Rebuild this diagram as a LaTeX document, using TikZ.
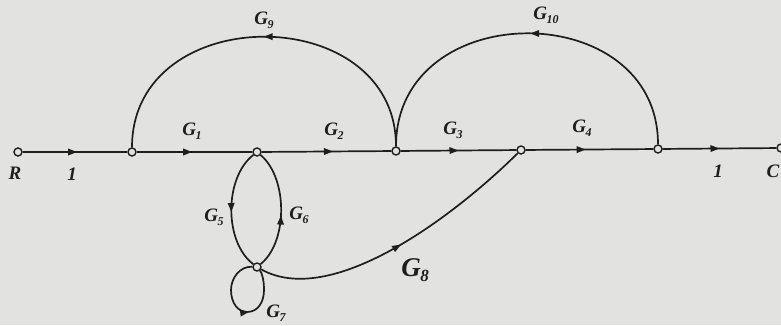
\documentclass[tikz,border=0pt]{standalone}
\usepackage{fontspec}
\setmainfont{Liberation Serif}
\usetikzlibrary{arrows.meta,decorations.markings}
\definecolor{bg}{RGB}{226,226,224}
\definecolor{ink}{RGB}{30,30,30}
\newcommand\gl[2][12]{G\kern-0.5pt\raisebox{-0.45ex}{\fontsize{#1}{#1}\selectfont #2}}
\tikzset{
  x=1pt, y=-1pt,
  sfgnode/.style={circle, draw=ink, fill=bg, line width=1.4pt, inner sep=0pt, minimum size=8pt},
  branch/.style={draw=ink, line width=1.7pt},
  midarrow/.style={decoration={markings, mark=at position #1 with {\arrow{Triangle[length=9pt,width=6.5pt]}}}, postaction={decorate}},
  glabel/.style={font=\fontsize{19}{19}\selectfont\bfseries\itshape, text=ink, inner sep=0pt},
}
\begin{document}
\begin{tikzpicture}
\fill[bg] (0,0) rectangle (781,325);
\useasboundingbox (0,0) rectangle (781,325);
% nodes
\node[sfgnode] (R) at (18,152) {};
\node[sfgnode] (n1) at (132,152) {};
\node[sfgnode] (n2) at (257,152) {};
\node[sfgnode] (n3) at (396,151) {};
\node[sfgnode] (n4) at (521,150) {};
\node[sfgnode] (n5) at (658,149) {};
\node[sfgnode] (C) at (781,148) {};
\node[sfgnode] (b) at (257,267) {};
% forward path
\draw[branch, midarrow=0.52] (R) -- (n1);
\draw[branch, midarrow=0.48] (n1) -- (n2);
\draw[branch, midarrow=0.55] (n2) -- (n3);
\draw[branch, midarrow=0.5] (n3) -- (n4);
\draw[branch, midarrow=0.47] (n4) -- (n5);
\draw[branch, midarrow=0.5] (n5) -- (C);
% feedback arcs
\draw[branch, midarrow=0.5] (n3) .. controls (396,0) and (132,0) .. (n1);
\draw[branch, midarrow=0.49] (n5) .. controls (658,-4) and (396,-4) .. (n3);
% lens G5 / G6
\draw[branch, midarrow=0.52] (n2) .. controls (224,178) and (224,242) .. (b);
\draw[branch, midarrow=0.45] (b) .. controls (288,242) and (288,178) .. (n2);
% G8
\draw[branch, midarrow=0.5] (b) .. controls (330,308) and (450,220) .. (n4);
% G7 self loop
\draw[branch, midarrow=0.58] (b) .. controls (240,266) and (231,278) .. (231,290)
  .. controls (231,303) and (238,312) .. (247,312)
  .. controls (258,312) and (264,302) .. (264,290)
  .. controls (264,280) and (262,273) .. (b);
% labels
\node[glabel] (lR) at (15,173) {R};
\node[glabel] (l1a) at (72,174) {1};
\node[glabel] (lg1) at (192,131) {\gl{1}};
\node[glabel] (lg2) at (334,131) {\gl{2}};
\node[glabel] (lg3) at (453,130) {\gl{3}};
\node[glabel] (lg4) at (582,128) {\gl{4}};
\node[glabel] (l1b) at (718,171) {1};
\node[glabel] (lC) at (773,171) {C};
\node[glabel] (lg9) at (264,20) {\gl{9}};
\node[glabel] (lg10) at (546,15) {\gl{10}};
\node[glabel] (lg5) at (214,217) {\gl{5}};
\node[glabel] (lg6) at (299,215) {\gl{6}};
\node[glabel] (lg7) at (276,313) {\gl{7}};
\node[glabel, font=\fontsize{27}{27}\selectfont\bfseries\itshape] (lg8) at (415,270) {\gl[17]{8}};
\end{tikzpicture}
\end{document}
